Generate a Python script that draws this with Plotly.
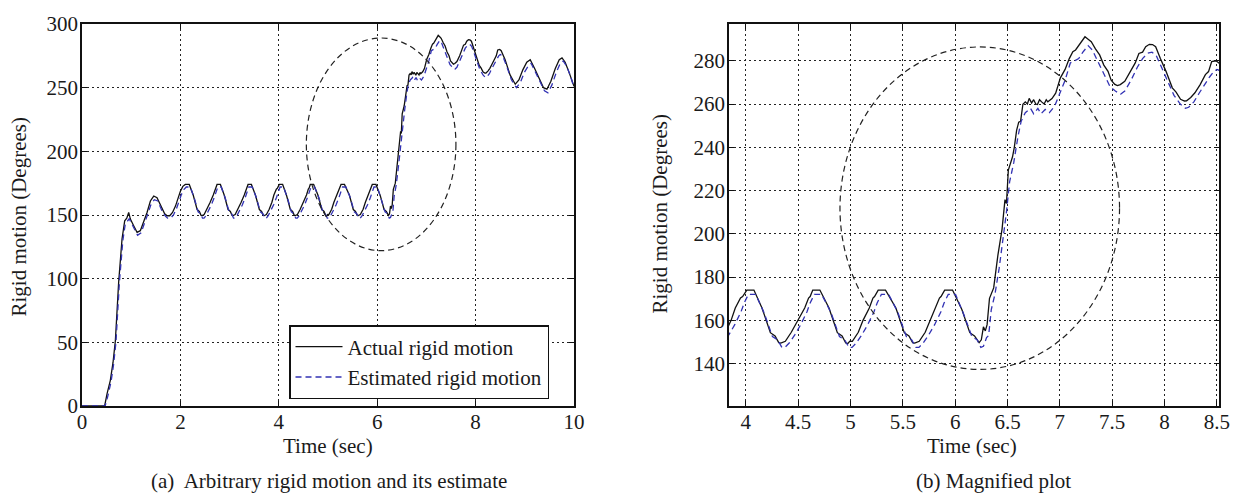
import plotly.graph_objects as go

# ---------------- data ----------------
t_actual = [0, 0.46, 0.51, 0.576, 0.63, 0.678, 0.746, 0.814, 0.868, 0.91, 0.949, 0.983, 1.05, 1.119, 1.186,
            1.25, 1.322, 1.39, 1.458, 1.525, 1.58, 1.627, 1.68, 1.73, 1.783, 1.84, 1.9, 1.96, 2.0, 2.05, 2.10,
            2.18, 2.26, 2.34, 2.385, 2.42, 2.44, 2.483, 2.54, 2.605, 2.668, 2.705, 2.72, 2.745, 2.813,
            2.89, 2.97, 3.015, 3.05, 3.07, 3.113, 3.17, 3.235, 3.298, 3.335, 3.35, 3.375, 3.443,
            3.525, 3.605, 3.65, 3.685, 3.705, 3.748, 3.805, 3.86, 3.90, 3.95, 3.97, 4.01, 4.078,
            4.155, 4.235, 4.28, 4.315, 4.335, 4.378, 4.435, 4.5, 4.563, 4.6, 4.615, 4.64, 4.708,
            4.795, 4.875, 4.92, 4.955, 4.975, 4.995, 5.018, 5.075, 5.12, 5.18, 5.215, 5.23, 5.265, 5.335,
            5.434, 5.514, 5.559, 5.594, 5.614, 5.657, 5.714, 5.76, 5.815, 5.85, 5.865, 5.90, 5.975,
            6.064, 6.14, 6.185, 6.229, 6.25, 6.27, 6.288, 6.305, 6.328, 6.368, 6.408, 6.448, 6.476, 6.49,
            6.508, 6.548, 6.565, 6.587, 6.607, 6.625, 6.647, 6.67, 6.69, 6.707, 6.73, 6.75, 6.77, 6.786,
            6.806, 6.826, 6.85, 6.87, 6.885, 6.925, 6.96, 7.005, 7.05, 7.09, 7.124, 7.15, 7.18, 7.21,
            7.24, 7.27, 7.30, 7.34, 7.38, 7.42, 7.46, 7.49, 7.525, 7.55, 7.577, 7.62, 7.676, 7.72,
            7.755, 7.79, 7.82, 7.855, 7.885, 7.915, 7.96, 8.014, 8.074, 8.11, 8.153, 8.19, 8.21, 8.25,
            8.29, 8.34, 8.39, 8.42, 8.45, 8.49, 8.52, 8.6, 8.7, 8.806, 8.88, 8.96, 9.04, 9.11, 9.2,
            9.3, 9.38, 9.45, 9.53, 9.62, 9.7, 9.756, 9.82, 9.9, 9.99, 10.0]
actual = [0, 0, 9.8, 20.2, 34, 51.2, 97.7, 131.3, 145.5, 147.5, 152, 146.8, 141.6, 136.4, 137.7,
          144, 152, 161, 164.9, 163.6, 159, 154.5, 151, 149.4, 149.4, 152, 157, 164, 168.7, 172.5, 174,
          174, 165.7, 154.3, 152.8, 149.7, 149.5, 150.3, 154.5, 160, 165.7, 170.3, 171, 174, 174,
          165.7, 154.3, 152.8, 149.7, 149.5, 150.3, 154.5, 160, 165.7, 170.3, 171, 174, 174,
          165.7, 154.3, 152.8, 149.7, 149.5, 150.3, 154.5, 160, 165.7, 170.3, 171, 174, 174,
          165.7, 154.3, 152.8, 149.7, 149.5, 150.3, 154.5, 160, 165.7, 170.3, 171, 174, 174,
          165.7, 154.3, 152.8, 149.5, 149.3, 150.4, 150.3, 154.5, 160, 165.7, 170.3, 171, 174, 174,
          165.7, 154.3, 152.8, 149.7, 149.5, 150.3, 154.5, 160, 165.7, 170.3, 171, 174, 174,
          165, 154.3, 152.8, 149.7, 151, 157, 155.1, 158, 170.2, 175, 190, 202.2, 215.8, 214,
          229.5, 235.6, 240, 247.8, 251.6, 252, 259.9, 261, 260, 262.6, 260.5, 262, 260, 259.8,
          262, 261, 260, 262, 261, 262.5, 265, 272.1, 276, 281, 284.2, 285, 287.2, 289.5,
          291.1, 290, 288.8, 285.5, 282.7, 278, 275.1, 271, 269.1, 268.5, 269, 270.5, 275.1, 279,
          283.4, 284, 286.5, 287.6, 287.5, 286.5, 281, 275.1, 267.5, 265.5, 262.2, 261.4, 261.5, 263,
          265.2, 269, 273.6, 275, 279.6, 280, 279, 272, 260, 252.7, 256, 264, 270, 272, 265,
          256, 250, 248.8, 255, 265, 272, 273.4, 270, 262, 251.4, 251]

t_est = [0, 0.47, 0.52, 0.59, 0.64, 0.69, 0.76, 0.83, 0.88, 0.93, 0.96, 1.0, 1.06, 1.13, 1.2,
         1.27, 1.33, 1.4, 1.47, 1.54, 1.6, 1.64, 1.7, 1.74, 1.8, 1.86, 1.92, 1.98, 2.02, 2.07, 2.12,
         2.2, 2.28, 2.36, 2.41, 2.45, 2.48, 2.52, 2.57, 2.63, 2.69, 2.72, 2.76, 2.83,
         2.91, 2.99, 3.04, 3.08, 3.11, 3.15, 3.2, 3.26, 3.32, 3.35, 3.39, 3.46,
         3.545, 3.625, 3.675, 3.715, 3.745, 3.785, 3.835, 3.895, 3.955, 3.985, 4.025, 4.095,
         4.175, 4.255, 4.305, 4.345, 4.375, 4.415, 4.465, 4.525, 4.585, 4.615, 4.655, 4.725,
         4.815, 4.895, 4.945, 4.985, 5.015, 5.055, 5.105, 5.165, 5.225, 5.255, 5.295, 5.365,
         5.454, 5.534, 5.584, 5.624, 5.654, 5.694, 5.744, 5.804, 5.864, 5.894, 5.934, 6.004,
         6.08, 6.16, 6.21, 6.245, 6.27, 6.30, 6.32, 6.345, 6.38, 6.42, 6.46, 6.49, 6.52, 6.56,
         6.60, 6.63, 6.67, 6.72, 6.75, 6.79, 6.82, 6.86, 6.90, 6.95, 7.0, 7.05, 7.10, 7.14, 7.18,
         7.22, 7.27, 7.31, 7.36, 7.42, 7.48, 7.53, 7.58, 7.62, 7.68, 7.74, 7.79, 7.84, 7.88, 7.92,
         7.97, 8.03, 8.09, 8.15, 8.2, 8.23, 8.28, 8.33, 8.38, 8.43, 8.47, 8.5, 8.55, 8.63, 8.73,
         8.83, 8.91, 8.99, 9.07, 9.13, 9.22, 9.32, 9.40, 9.47, 9.55, 9.64, 9.72, 9.78, 9.85, 9.93, 10.0]
est = [0, 0, 7, 19, 32, 50, 97, 130, 143, 145, 147, 144, 139, 134, 136,
       143, 150, 158, 162, 161, 156, 152, 149, 147.5, 147.5, 150, 155, 162, 166, 170, 172,
       172, 163.5, 152.5, 151, 147.5, 147.5, 149.5, 153, 158, 164, 168, 172, 172,
       163.5, 152.5, 151, 147.5, 147.5, 149.5, 153, 158, 164, 168, 172, 172,
       163.5, 152.5, 151, 147.5, 147.5, 149.5, 153, 158, 164, 168, 172, 172,
       163.5, 152.5, 151, 147.5, 147.5, 149.5, 153, 158, 164, 168, 172, 172,
       163.5, 152.5, 151, 147.5, 147.5, 149.5, 153, 158, 164, 168, 172, 172,
       163.5, 152.5, 151, 147.5, 147.5, 149.5, 153, 158, 164, 168, 172, 172,
       163, 152.5, 151, 147.5, 148, 152, 153, 165, 172, 184, 198, 210, 224, 233,
       245, 252, 256, 258, 255.5, 258, 255.5, 257.5, 256, 259, 265, 271, 279, 280, 281,
       284, 287, 285, 280, 274, 268, 266, 264.5, 266, 271, 277, 281, 283.5, 284, 282.5,
       277, 271, 264, 260, 258, 258.5, 261, 265, 269, 272.5, 275, 276, 275, 267, 256,
       250, 254, 262, 267, 269, 262, 253, 247.5, 246, 252, 262, 269, 271, 267, 259, 250]

# axis ticks
left_xticks = [0, 2, 4, 6, 8, 10]
left_yticks = [0, 50, 100, 150, 200, 250, 300]
right_xticks = [4, 4.5, 5, 5.5, 6, 6.5, 7, 7.5, 8, 8.5]
right_xlabels = ["4", "4.5", "5", "5.5", "6", "6.5", "7", "7.5", "8", "8.5"]
right_yticks = [140, 160, 180, 200, 220, 240, 260, 280]

# highlight ellipses (data coordinates: x0, x1, y0, y1)
ellipse_left = [4.56, 7.60, 122, 289]
ellipse_right = [4.90, 7.57, 137.3, 286.4]

# ---------------- figure ----------------
FONT = "Liberation Serif, Times New Roman, serif"
TXT = "#1a1a1a"
BLUE = "#3232b4"

fig = go.Figure()
for xa, ya, show in (("x", "y", True), ("x2", "y2", False)):
    fig.add_trace(go.Scatter(x=t_actual, y=actual, mode="lines", name="Actual rigid motion",
                             line=dict(color="#111111", width=1.3), xaxis=xa, yaxis=ya,
                             showlegend=show))
    fig.add_trace(go.Scatter(x=t_est, y=est, mode="lines", name="Estimated rigid motion",
                             line=dict(color=BLUE, width=1.3, dash="6px,4px"), xaxis=xa, yaxis=ya,
                             showlegend=show))

W, H = 1244, 494
L, R, T, B = 82, 25, 19, 88
pw = W - L - R
ph = H - T - B
left_dom = [0, (574 - L) / pw]
right_dom = [(729 - L) / pw, 1]

axis_common = dict(showline=True, linecolor="#111111", linewidth=1.5, mirror="ticks",
                   ticks="inside", ticklen=5, tickcolor="#111111", tickwidth=1,
                   showgrid=True, gridcolor="#222222", gridwidth=1, griddash="2px,3px",
                   zeroline=False,
                   tickfont=dict(family=FONT, size=21, color=TXT))

fig.update_layout(
    width=W, height=H, margin=dict(l=L, r=R, t=T, b=B),
    paper_bgcolor="white", plot_bgcolor="white",
    font=dict(family=FONT, size=21, color=TXT),
    xaxis=dict(domain=left_dom, range=[0, 10], tickvals=left_xticks, anchor="y",
               ticklabelstandoff=-4, **axis_common),
    yaxis=dict(domain=[0, 1], range=[0, 300], tickvals=left_yticks, anchor="x",
               ticklabelstandoff=-2, **axis_common),
    xaxis2=dict(domain=right_dom, range=[3.84, 8.52], tickvals=right_xticks, ticktext=right_xlabels,
                anchor="y2", ticklabelstandoff=-4, **axis_common),
    yaxis2=dict(domain=[0, 1], range=[120.4, 297], tickvals=right_yticks, anchor="x2",
                ticklabelstandoff=-2, **axis_common),
    legend=dict(x=(289 - L) / pw, y=(406 - 324) / ph, xanchor="left", yanchor="top",
                bgcolor="white", bordercolor="#111111", borderwidth=1.5, itemwidth=47,
                font=dict(family=FONT, size=21, color=TXT)),
    showlegend=True,
)

fig.add_shape(type="circle", xref="x", yref="y",
              x0=ellipse_left[0], x1=ellipse_left[1], y0=ellipse_left[2], y1=ellipse_left[3],
              line=dict(color="#222222", width=1.2, dash="6px,4px"))
fig.add_shape(type="circle", xref="x2", yref="y2",
              x0=ellipse_right[0], x1=ellipse_right[1], y0=ellipse_right[2], y1=ellipse_right[3],
              line=dict(color="#222222", width=1.2, dash="6px,4px"))

def px2paper_x(px):
    return (px - L) / pw

def py2paper_y(py):
    return (H - B - py) / ph

ann = [
    ("Time (sec)", 328, 447, 0),
    ("Time (sec)", 972, 447, 0),
    ("Rigid motion (Degrees)", 19, 215, -90),
    ("Rigid motion (Degrees)", 660, 212, -90),
    ("(a)  Arbitrary rigid motion and its estimate", 329, 482, 0),
    ("(b) Magnified plot", 993, 482, 0),
]
for text, x, y, ang in ann:
    fig.add_annotation(text=text, x=px2paper_x(x), y=py2paper_y(y), xref="paper", yref="paper",
                       xanchor="center", yanchor="middle", showarrow=False, textangle=ang,
                       font=dict(family=FONT, size=21, color=TXT))

fig.write_html("out.html", config={"displayModeBar": False},
               post_script="document.body.style.margin='0px';")
